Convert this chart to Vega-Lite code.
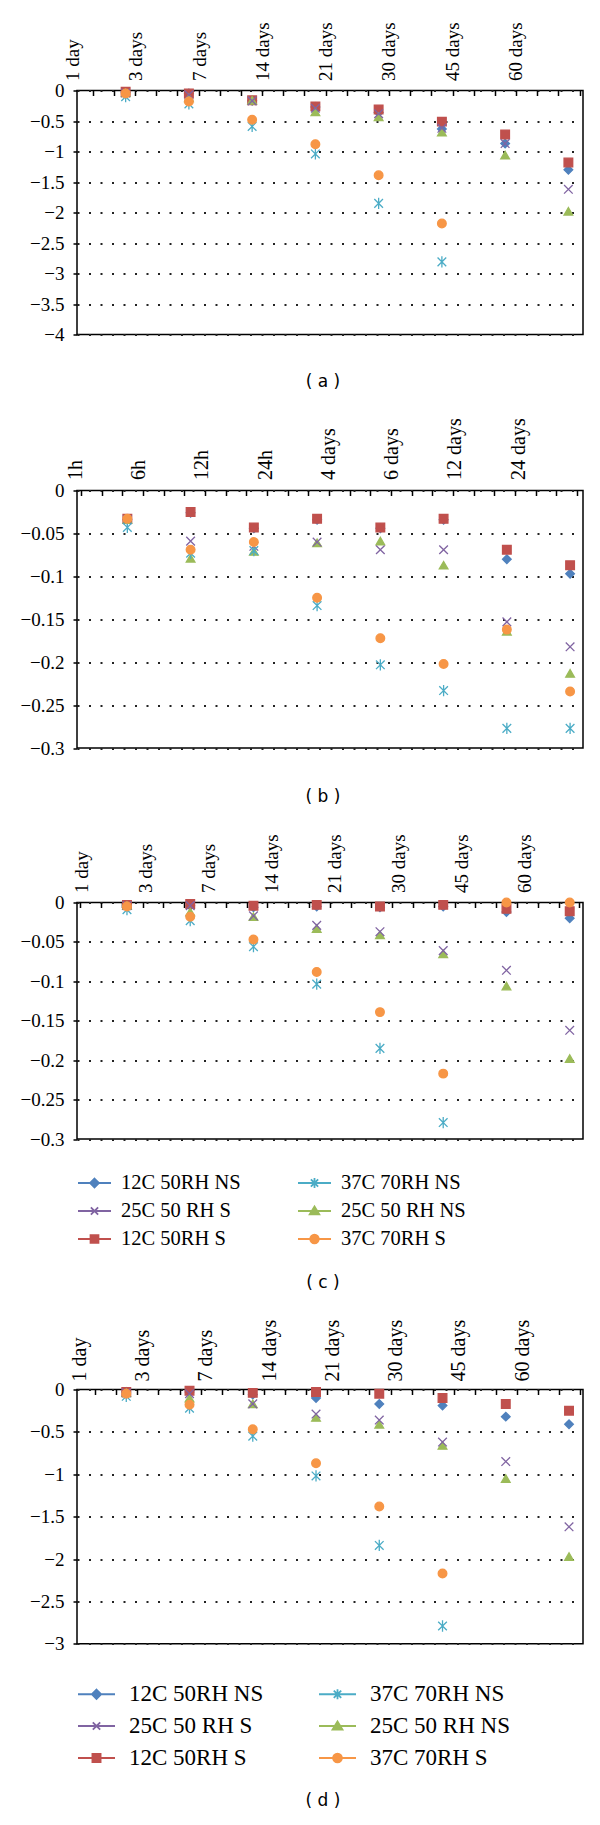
{
  "$schema": "https://vega.github.io/schema/vega-lite/v6.json",
  "background": "white",
  "padding": {"left": 19, "top": 20.5, "right": 0, "bottom": 0},
  "spacing": 26,
  "config": {
    "view": {"stroke": "black", "strokeWidth": 1.5},
    "axisY": {"labelFont": "Liberation Serif", "labelColor": "black", "tickColor": "black", "tickSize": 4, "tickWidth": 1.5, "domain": false, "grid": true, "gridColor": "#222222", "gridDash": [2, 9.5], "gridWidth": 1.8, "labelPadding": 9, "format": "~g"}
  },
  "resolve": {"scale": {"color": "independent", "stroke": "independent", "shape": "independent"}, "legend": {"color": "independent"}},
  "datasets": {
    "a": [
      {"s":"12C 50RH NS","t":"1 day","v":-0.03},{"s":"12C 50RH NS","t":"3 days","v":-0.05},{"s":"12C 50RH NS","t":"7 days","v":-0.17},{"s":"12C 50RH NS","t":"14 days","v":-0.27},{"s":"12C 50RH NS","t":"21 days","v":-0.36},{"s":"12C 50RH NS","t":"30 days","v":-0.63},{"s":"12C 50RH NS","t":"45 days","v":-0.87},{"s":"12C 50RH NS","t":"60 days","v":-1.3},
      {"s":"12C 50RH S","t":"1 day","v":-0.02},{"s":"12C 50RH S","t":"3 days","v":-0.05},{"s":"12C 50RH S","t":"7 days","v":-0.16},{"s":"12C 50RH S","t":"14 days","v":-0.26},{"s":"12C 50RH S","t":"21 days","v":-0.31},{"s":"12C 50RH S","t":"30 days","v":-0.51},{"s":"12C 50RH S","t":"45 days","v":-0.72},{"s":"12C 50RH S","t":"60 days","v":-1.18},
      {"s":"25C 50 RH NS","t":"1 day","v":-0.04},{"s":"25C 50 RH NS","t":"3 days","v":-0.12},{"s":"25C 50 RH NS","t":"7 days","v":-0.16},{"s":"25C 50 RH NS","t":"14 days","v":-0.35},{"s":"25C 50 RH NS","t":"21 days","v":-0.43},{"s":"25C 50 RH NS","t":"30 days","v":-0.68},{"s":"25C 50 RH NS","t":"45 days","v":-1.06},{"s":"25C 50 RH NS","t":"60 days","v":-1.98},
      {"s":"25C 50 RH S","t":"1 day","v":-0.04},{"s":"25C 50 RH S","t":"3 days","v":-0.07},{"s":"25C 50 RH S","t":"7 days","v":-0.17},{"s":"25C 50 RH S","t":"14 days","v":-0.29},{"s":"25C 50 RH S","t":"21 days","v":-0.38},{"s":"25C 50 RH S","t":"30 days","v":-0.62},{"s":"25C 50 RH S","t":"45 days","v":-0.87},{"s":"25C 50 RH S","t":"60 days","v":-1.62},
      {"s":"37C 70RH NS","t":"1 day","v":-0.1},{"s":"37C 70RH NS","t":"3 days","v":-0.22},{"s":"37C 70RH NS","t":"7 days","v":-0.59},{"s":"37C 70RH NS","t":"14 days","v":-1.04},{"s":"37C 70RH NS","t":"21 days","v":-1.85},{"s":"37C 70RH NS","t":"30 days","v":-2.81},
      {"s":"37C 70RH S","t":"1 day","v":-0.05},{"s":"37C 70RH S","t":"3 days","v":-0.18},{"s":"37C 70RH S","t":"7 days","v":-0.48},{"s":"37C 70RH S","t":"14 days","v":-0.88},{"s":"37C 70RH S","t":"21 days","v":-1.39},{"s":"37C 70RH S","t":"30 days","v":-2.18}
    ],
    "b": [
      {"s":"12C 50RH NS","t":"1h","v":-0.034},{"s":"12C 50RH NS","t":"6h","v":-0.026},{"s":"12C 50RH NS","t":"12h","v":-0.044},{"s":"12C 50RH NS","t":"24h","v":-0.034},{"s":"12C 50RH NS","t":"4 days","v":-0.044},{"s":"12C 50RH NS","t":"6 days","v":-0.034},{"s":"12C 50RH NS","t":"12 days","v":-0.08},{"s":"12C 50RH NS","t":"24 days","v":-0.097},
      {"s":"12C 50RH S","t":"1h","v":-0.033},{"s":"12C 50RH S","t":"6h","v":-0.025},{"s":"12C 50RH S","t":"12h","v":-0.043},{"s":"12C 50RH S","t":"24h","v":-0.033},{"s":"12C 50RH S","t":"4 days","v":-0.043},{"s":"12C 50RH S","t":"6 days","v":-0.033},{"s":"12C 50RH S","t":"12 days","v":-0.069},{"s":"12C 50RH S","t":"24 days","v":-0.087},
      {"s":"25C 50 RH NS","t":"1h","v":-0.034},{"s":"25C 50 RH NS","t":"6h","v":-0.079},{"s":"25C 50 RH NS","t":"12h","v":-0.071},{"s":"25C 50 RH NS","t":"24h","v":-0.061},{"s":"25C 50 RH NS","t":"4 days","v":-0.059},{"s":"25C 50 RH NS","t":"6 days","v":-0.087},{"s":"25C 50 RH NS","t":"12 days","v":-0.164},{"s":"25C 50 RH NS","t":"24 days","v":-0.213},
      {"s":"25C 50 RH S","t":"1h","v":-0.034},{"s":"25C 50 RH S","t":"6h","v":-0.059},{"s":"25C 50 RH S","t":"12h","v":-0.065},{"s":"25C 50 RH S","t":"24h","v":-0.06},{"s":"25C 50 RH S","t":"4 days","v":-0.069},{"s":"25C 50 RH S","t":"6 days","v":-0.069},{"s":"25C 50 RH S","t":"12 days","v":-0.153},{"s":"25C 50 RH S","t":"24 days","v":-0.182},
      {"s":"37C 70RH NS","t":"1h","v":-0.043},{"s":"37C 70RH NS","t":"6h","v":-0.073},{"s":"37C 70RH NS","t":"12h","v":-0.07},{"s":"37C 70RH NS","t":"24h","v":-0.134},{"s":"37C 70RH NS","t":"4 days","v":-0.203},{"s":"37C 70RH NS","t":"6 days","v":-0.233},{"s":"37C 70RH NS","t":"12 days","v":-0.277},{"s":"37C 70RH NS","t":"24 days","v":-0.277},
      {"s":"37C 70RH S","t":"1h","v":-0.033},{"s":"37C 70RH S","t":"6h","v":-0.069},{"s":"37C 70RH S","t":"12h","v":-0.06},{"s":"37C 70RH S","t":"24h","v":-0.125},{"s":"37C 70RH S","t":"4 days","v":-0.172},{"s":"37C 70RH S","t":"6 days","v":-0.202},{"s":"37C 70RH S","t":"12 days","v":-0.162},{"s":"37C 70RH S","t":"24 days","v":-0.234}
    ],
    "c": [
      {"s":"12C 50RH NS","t":"1 day","v":-0.004},{"s":"12C 50RH NS","t":"3 days","v":-0.004},{"s":"12C 50RH NS","t":"7 days","v":-0.006},{"s":"12C 50RH NS","t":"14 days","v":-0.005},{"s":"12C 50RH NS","t":"21 days","v":-0.006},{"s":"12C 50RH NS","t":"30 days","v":-0.005},{"s":"12C 50RH NS","t":"45 days","v":-0.012},{"s":"12C 50RH NS","t":"60 days","v":-0.02},
      {"s":"12C 50RH S","t":"1 day","v":-0.003},{"s":"12C 50RH S","t":"3 days","v":-0.002},{"s":"12C 50RH S","t":"7 days","v":-0.004},{"s":"12C 50RH S","t":"14 days","v":-0.003},{"s":"12C 50RH S","t":"21 days","v":-0.005},{"s":"12C 50RH S","t":"30 days","v":-0.003},{"s":"12C 50RH S","t":"45 days","v":-0.008},{"s":"12C 50RH S","t":"60 days","v":-0.011},
      {"s":"25C 50 RH NS","t":"1 day","v":-0.004},{"s":"25C 50 RH NS","t":"3 days","v":-0.012},{"s":"25C 50 RH NS","t":"7 days","v":-0.018},{"s":"25C 50 RH NS","t":"14 days","v":-0.033},{"s":"25C 50 RH NS","t":"21 days","v":-0.041},{"s":"25C 50 RH NS","t":"30 days","v":-0.065},{"s":"25C 50 RH NS","t":"45 days","v":-0.106},{"s":"25C 50 RH NS","t":"60 days","v":-0.198},
      {"s":"25C 50 RH S","t":"1 day","v":-0.004},{"s":"25C 50 RH S","t":"3 days","v":-0.004},{"s":"25C 50 RH S","t":"7 days","v":-0.017},{"s":"25C 50 RH S","t":"14 days","v":-0.029},{"s":"25C 50 RH S","t":"21 days","v":-0.037},{"s":"25C 50 RH S","t":"30 days","v":-0.061},{"s":"25C 50 RH S","t":"45 days","v":-0.086},{"s":"25C 50 RH S","t":"60 days","v":-0.162},
      {"s":"37C 70RH NS","t":"1 day","v":-0.009},{"s":"37C 70RH NS","t":"3 days","v":-0.023},{"s":"37C 70RH NS","t":"7 days","v":-0.056},{"s":"37C 70RH NS","t":"14 days","v":-0.1035},{"s":"37C 70RH NS","t":"21 days","v":-0.185},{"s":"37C 70RH NS","t":"30 days","v":-0.279},
      {"s":"37C 70RH S","t":"1 day","v":-0.005},{"s":"37C 70RH S","t":"3 days","v":-0.018},{"s":"37C 70RH S","t":"7 days","v":-0.047},{"s":"37C 70RH S","t":"14 days","v":-0.088},{"s":"37C 70RH S","t":"21 days","v":-0.139},{"s":"37C 70RH S","t":"30 days","v":-0.217},{"s":"37C 70RH S","t":"45 days","v":0},{"s":"37C 70RH S","t":"60 days","v":0}
    ],
    "d": [
      {"s":"12C 50RH NS","t":"1 day","v":-0.03},{"s":"12C 50RH NS","t":"3 days","v":-0.03},{"s":"12C 50RH NS","t":"7 days","v":-0.06},{"s":"12C 50RH NS","t":"14 days","v":-0.1},{"s":"12C 50RH NS","t":"21 days","v":-0.17},{"s":"12C 50RH NS","t":"30 days","v":-0.19},{"s":"12C 50RH NS","t":"45 days","v":-0.32},{"s":"12C 50RH NS","t":"60 days","v":-0.41},
      {"s":"12C 50RH S","t":"1 day","v":-0.03},{"s":"12C 50RH S","t":"3 days","v":-0.015},{"s":"12C 50RH S","t":"7 days","v":-0.04},{"s":"12C 50RH S","t":"14 days","v":-0.03},{"s":"12C 50RH S","t":"21 days","v":-0.05},{"s":"12C 50RH S","t":"30 days","v":-0.1},{"s":"12C 50RH S","t":"45 days","v":-0.17},{"s":"12C 50RH S","t":"60 days","v":-0.25},
      {"s":"25C 50 RH NS","t":"1 day","v":-0.04},{"s":"25C 50 RH NS","t":"3 days","v":-0.1},{"s":"25C 50 RH NS","t":"7 days","v":-0.17},{"s":"25C 50 RH NS","t":"14 days","v":-0.33},{"s":"25C 50 RH NS","t":"21 days","v":-0.41},{"s":"25C 50 RH NS","t":"30 days","v":-0.66},{"s":"25C 50 RH NS","t":"45 days","v":-1.05},{"s":"25C 50 RH NS","t":"60 days","v":-1.97},
      {"s":"25C 50 RH S","t":"1 day","v":-0.04},{"s":"25C 50 RH S","t":"3 days","v":-0.05},{"s":"25C 50 RH S","t":"7 days","v":-0.17},{"s":"25C 50 RH S","t":"14 days","v":-0.29},{"s":"25C 50 RH S","t":"21 days","v":-0.36},{"s":"25C 50 RH S","t":"30 days","v":-0.62},{"s":"25C 50 RH S","t":"45 days","v":-0.85},{"s":"25C 50 RH S","t":"60 days","v":-1.62},
      {"s":"37C 70RH NS","t":"1 day","v":-0.08},{"s":"37C 70RH NS","t":"3 days","v":-0.22},{"s":"37C 70RH NS","t":"7 days","v":-0.55},{"s":"37C 70RH NS","t":"14 days","v":-1.02},{"s":"37C 70RH NS","t":"21 days","v":-1.84},{"s":"37C 70RH NS","t":"30 days","v":-2.79},
      {"s":"37C 70RH S","t":"1 day","v":-0.05},{"s":"37C 70RH S","t":"3 days","v":-0.18},{"s":"37C 70RH S","t":"7 days","v":-0.47},{"s":"37C 70RH S","t":"14 days","v":-0.87},{"s":"37C 70RH S","t":"21 days","v":-1.38},{"s":"37C 70RH S","t":"30 days","v":-2.17}
    ]
  },
  "vconcat": [
    {
      "width": 506, "height": 244,
      "title": {"text": "( a )", "orient": "bottom", "anchor": "middle", "frame": "group", "offset": 29, "dx": -7, "font": "DejaVu Sans", "fontSize": 17, "fontWeight": "normal", "color": "black"},
      "layer": [
        {
          "data": {"values": []},
          "mark": {"type": "point", "opacity": 0},
          "encoding": {"x": {"field": "k", "type": "quantitative", "scale": {"domain": [0.255, 24.16], "nice": false, "zero": false},
            "axis": {"orient": "top", "values": [1,2,3,4,5,6,7,8,9,10,11,12,13,14,15,16,17,18,19,20,21,22,23,24], "labels": false, "domain": false, "grid": false, "ticks": true, "tickSize": 5, "tickWidth": 1.5, "tickColor": "black", "offset": -5, "title": null}}}
        },
        {
          "data": {"name": "a"},
          "mark": {"type": "point", "filled": true, "size": 75, "opacity": 1, "strokeWidth": 1.3},
          "encoding": {
            "x": {"field": "t", "type": "ordinal", "sort": null,
              "scale": {"type": "point", "domain": ["1 day","3 days","7 days","14 days","21 days","30 days","45 days","60 days"], "paddingOuter": 0.484, "align": 0.769, "round": false},
              "axis": {"orient": "top", "title": null, "domain": false, "ticks": false, "grid": false, "labelAngle": 270, "labelAlign": "left", "labelBaseline": "middle", "labelPadding": 10, "labelOffset": -53, "labelOverlap": false, "labelFont": "Liberation Serif", "labelFontSize": 19, "labelColor": "black"}},
            "y": {"field": "v", "type": "quantitative", "scale": {"domain": [-4, 0], "nice": false, "zero": false},
              "axis": {"title": null, "values": [0,-0.5,-1,-1.5,-2,-2.5,-3,-3.5,-4], "labelFontSize": 19}},
            "color": {"field": "s", "type": "nominal", "scale": {"domain": ["12C 50RH NS","37C 70RH NS","25C 50 RH S","25C 50 RH NS","12C 50RH S","37C 70RH S"], "range": ["#4F81BD","#4BACC6","#8064A2","#9BBB59","#C0504D","#F79646"]}, "legend": null},
            "stroke": {"field": "s", "type": "nominal", "scale": {"domain": ["12C 50RH NS","25C 50 RH S","12C 50RH S","37C 70RH NS","25C 50 RH NS","37C 70RH S"], "range": ["#4F81BD","#8064A2","#C0504D","#4BACC6","#9BBB59","#F79646"]}, "legend": null},
            "shape": {"field": "s", "type": "nominal", "scale": {"domain": ["12C 50RH NS","25C 50 RH S","12C 50RH S","37C 70RH NS","25C 50 RH NS","37C 70RH S"], "range": ["diamond","M-1,-1L1,1M-1,1L1,-1","square","M-1,-1L1,1M-1,1L1,-1M0,-1.3V1.3","triangle-up","circle"]}, "legend": null}
          }
        }
      ],
      "resolve": {"scale": {"x": "independent"}, "axis": {"x": "independent"}}
    },
    {
      "width": 506, "height": 257.6,
      "title": {"text": "( b )", "orient": "bottom", "anchor": "middle", "frame": "group", "offset": 31, "dx": -7, "font": "DejaVu Sans", "fontSize": 17, "fontWeight": "normal", "color": "black"},
      "layer": [
        {
          "data": {"values": []},
          "mark": {"type": "point", "opacity": 0},
          "encoding": {"x": {"field": "k", "type": "quantitative", "scale": {"domain": [-0.194, 24.29], "nice": false, "zero": false},
            "axis": {"orient": "top", "values": [0,1,2,3,4,5,6,7,8,9,10,11,12,13,14,15,16,17,18,19,20,21,22,23,24], "labels": false, "domain": false, "grid": false, "ticks": true, "tickSize": 5, "tickWidth": 1.5, "tickColor": "black", "offset": -5, "title": null}}}
        },
        {
          "data": {"name": "b"},
          "mark": {"type": "point", "filled": true, "size": 75, "opacity": 1, "strokeWidth": 1.3},
          "encoding": {
            "x": {"field": "t", "type": "ordinal", "sort": null,
              "scale": {"type": "point", "domain": ["1h","6h","12h","24h","4 days","6 days","12 days","24 days"], "paddingOuter": 0.581, "align": 0.796, "round": false},
              "axis": {"orient": "top", "title": null, "domain": false, "ticks": false, "grid": false, "labelAngle": 270, "labelAlign": "left", "labelBaseline": "middle", "labelPadding": 11, "labelOffset": -52, "labelOverlap": false, "labelFont": "Liberation Serif", "labelFontSize": 20, "labelColor": "black"}},
            "y": {"field": "v", "type": "quantitative", "scale": {"domain": [-0.3, 0], "nice": false, "zero": false},
              "axis": {"title": null, "values": [0,-0.05,-0.1,-0.15,-0.2,-0.25,-0.3], "labelFontSize": 19}},
            "color": {"field": "s", "type": "nominal", "scale": {"domain": ["12C 50RH NS","37C 70RH NS","25C 50 RH S","25C 50 RH NS","12C 50RH S","37C 70RH S"], "range": ["#4F81BD","#4BACC6","#8064A2","#9BBB59","#C0504D","#F79646"]}, "legend": null},
            "stroke": {"field": "s", "type": "nominal", "scale": {"domain": ["12C 50RH NS","25C 50 RH S","12C 50RH S","37C 70RH NS","25C 50 RH NS","37C 70RH S"], "range": ["#4F81BD","#8064A2","#C0504D","#4BACC6","#9BBB59","#F79646"]}, "legend": null},
            "shape": {"field": "s", "type": "nominal", "scale": {"domain": ["12C 50RH NS","25C 50 RH S","12C 50RH S","37C 70RH NS","25C 50 RH NS","37C 70RH S"], "range": ["diamond","M-1,-1L1,1M-1,1L1,-1","square","M-1,-1L1,1M-1,1L1,-1M0,-1.3V1.3","triangle-up","circle"]}, "legend": null}
          }
        }
      ],
      "resolve": {"scale": {"x": "independent"}, "axis": {"x": "independent"}}
    },
    {
      "width": 506, "height": 236.6,
      "title": {"text": "( c )", "orient": "bottom", "anchor": "middle", "frame": "group", "offset": 25.5, "dx": -7, "font": "DejaVu Sans", "fontSize": 17, "fontWeight": "normal", "color": "black"},
      "layer": [
        {
          "data": {"values": []},
          "mark": {"type": "point", "opacity": 0},
          "encoding": {"x": {"field": "k", "type": "quantitative", "scale": {"domain": [-0.154, 24.17], "nice": false, "zero": false},
            "axis": {"orient": "top", "values": [0,1,2,3,4,5,6,7,8,9,10,11,12,13,14,15,16,17,18,19,20,21,22,23,24], "labels": false, "domain": false, "grid": false, "ticks": true, "tickSize": 5, "tickWidth": 1.5, "tickColor": "black", "offset": -5, "title": null}}}
        },
        {
          "data": {"name": "c"},
          "mark": {"type": "point", "filled": true, "size": 75, "opacity": 1, "strokeWidth": 1.3},
          "encoding": {
            "x": {"field": "t", "type": "ordinal", "sort": null,
              "scale": {"type": "point", "domain": ["1 day","3 days","7 days","14 days","21 days","30 days","45 days","60 days"], "paddingOuter": 0.554, "align": 0.79, "round": false},
              "axis": {"orient": "top", "title": null, "domain": false, "ticks": false, "grid": false, "labelAngle": 270, "labelAlign": "left", "labelBaseline": "middle", "labelPadding": 10, "labelOffset": -45, "labelOverlap": false, "labelFont": "Liberation Serif", "labelFontSize": 19, "labelColor": "black"}},
            "y": {"field": "v", "type": "quantitative", "scale": {"domain": [-0.3, 0], "nice": false, "zero": false},
              "axis": {"title": null, "values": [0,-0.05,-0.1,-0.15,-0.2,-0.25,-0.3], "labelFontSize": 19}},
            "color": {"field": "s", "type": "nominal", "scale": {"domain": ["12C 50RH NS","37C 70RH NS","25C 50 RH S","25C 50 RH NS","12C 50RH S","37C 70RH S"], "range": ["#4F81BD","#4BACC6","#8064A2","#9BBB59","#C0504D","#F79646"]},
              "legend": {"orient": "bottom", "columns": 2, "direction": "horizontal", "title": null, "offset": 26, "columnPadding": 53, "rowPadding": -3.2, "labelFont": "Liberation Serif", "labelFontSize": 20.5, "labelColor": "black", "labelOffset": 9, "labelLimit": 400, "symbolSize": 1089, "symbolStrokeWidth": 1.8, "symbolOpacity": 1,
                "encode": {"symbols": {"update": {
                  "shape": {"signal": "{'12C 50RH NS':'M-1,0H1M0,-0.27L0.27,0L0,0.27L-0.27,0Z','37C 70RH NS':'M-1,0H1M-0.22,-0.22L0.22,0.22M-0.22,0.22L0.22,-0.22M0,-0.3V0.3','25C 50 RH S':'M-1,0H1M-0.22,-0.22L0.22,0.22M-0.22,0.22L0.22,-0.22','25C 50 RH NS':'M-1,0H1M0,-0.27L0.29,0.21L-0.29,0.21Z','12C 50RH S':'M-1,0H1M-0.24,-0.24H0.24V0.24H-0.24Z','37C 70RH S':'M-1,0H1M-0.26,0A0.26,0.26,0,1,0,0.26,0A0.26,0.26,0,1,0,-0.26,0Z'}[datum.value]"},
                  "stroke": {"signal": "{'12C 50RH NS':'#4F81BD','37C 70RH NS':'#4BACC6','25C 50 RH S':'#8064A2','25C 50 RH NS':'#9BBB59','12C 50RH S':'#C0504D','37C 70RH S':'#F79646'}[datum.value]"}
                }}}}},
            "stroke": {"field": "s", "type": "nominal", "scale": {"domain": ["12C 50RH NS","25C 50 RH S","12C 50RH S","37C 70RH NS","25C 50 RH NS","37C 70RH S"], "range": ["#4F81BD","#8064A2","#C0504D","#4BACC6","#9BBB59","#F79646"]}, "legend": null},
            "shape": {"field": "s", "type": "nominal", "scale": {"domain": ["12C 50RH NS","25C 50 RH S","12C 50RH S","37C 70RH NS","25C 50 RH NS","37C 70RH S"], "range": ["diamond","M-1,-1L1,1M-1,1L1,-1","square","M-1,-1L1,1M-1,1L1,-1M0,-1.3V1.3","triangle-up","circle"]}, "legend": null}
          }
        }
      ],
      "resolve": {"scale": {"x": "independent"}, "axis": {"x": "independent"}}
    },
    {
      "width": 506, "height": 254.3,
      "title": {"text": "( d )", "orient": "bottom", "anchor": "middle", "frame": "group", "offset": 22, "dx": -7, "font": "DejaVu Sans", "fontSize": 17, "fontWeight": "normal", "color": "black"},
      "layer": [
        {
          "data": {"values": []},
          "mark": {"type": "point", "opacity": 0},
          "encoding": {"x": {"field": "k", "type": "quantitative", "scale": {"domain": [0.142, 24.12], "nice": false, "zero": false},
            "axis": {"orient": "top", "values": [1,2,3,4,5,6,7,8,9,10,11,12,13,14,15,16,17,18,19,20,21,22,23,24], "labels": false, "domain": false, "grid": false, "ticks": true, "tickSize": 5, "tickWidth": 1.5, "tickColor": "black", "offset": -5, "title": null}}}
        },
        {
          "data": {"name": "d"},
          "mark": {"type": "point", "filled": true, "size": 75, "opacity": 1, "strokeWidth": 1.3},
          "encoding": {
            "x": {"field": "t", "type": "ordinal", "sort": null,
              "scale": {"type": "point", "domain": ["1 day","3 days","7 days","14 days","21 days","30 days","45 days","60 days"], "paddingOuter": 0.497, "align": 0.779, "round": false},
              "axis": {"orient": "top", "title": null, "domain": false, "ticks": false, "grid": false, "labelAngle": 270, "labelAlign": "left", "labelBaseline": "middle", "labelPadding": 8.5, "labelOffset": -47, "labelOverlap": false, "labelFont": "Liberation Serif", "labelFontSize": 20, "labelColor": "black"}},
            "y": {"field": "v", "type": "quantitative", "scale": {"domain": [-3, 0], "nice": false, "zero": false},
              "axis": {"title": null, "values": [0,-0.5,-1,-1.5,-2,-2.5,-3], "labelFontSize": 19}},
            "color": {"field": "s", "type": "nominal", "scale": {"domain": ["12C 50RH NS","37C 70RH NS","25C 50 RH S","25C 50 RH NS","12C 50RH S","37C 70RH S"], "range": ["#4F81BD","#4BACC6","#8064A2","#9BBB59","#C0504D","#F79646"]},
              "legend": {"orient": "bottom", "columns": 2, "direction": "horizontal", "title": null, "offset": 29.5, "columnPadding": 51, "rowPadding": -2.7, "labelFont": "Liberation Serif", "labelFontSize": 23, "labelColor": "black", "labelOffset": 13, "labelLimit": 400, "symbolSize": 1369, "symbolStrokeWidth": 1.8, "symbolOpacity": 1,
                "encode": {"symbols": {"update": {
                  "shape": {"signal": "{'12C 50RH NS':'M-1,0H1M0,-0.25L0.25,0L0,0.25L-0.25,0Z','37C 70RH NS':'M-1,0H1M-0.2,-0.2L0.2,0.2M-0.2,0.2L0.2,-0.2M0,-0.27V0.27','25C 50 RH S':'M-1,0H1M-0.2,-0.2L0.2,0.2M-0.2,0.2L0.2,-0.2','25C 50 RH NS':'M-1,0H1M0,-0.25L0.27,0.2L-0.27,0.2Z','12C 50RH S':'M-1,0H1M-0.22,-0.22H0.22V0.22H-0.22Z','37C 70RH S':'M-1,0H1M-0.24,0A0.24,0.24,0,1,0,0.24,0A0.24,0.24,0,1,0,-0.24,0Z'}[datum.value]"},
                  "stroke": {"signal": "{'12C 50RH NS':'#4F81BD','37C 70RH NS':'#4BACC6','25C 50 RH S':'#8064A2','25C 50 RH NS':'#9BBB59','12C 50RH S':'#C0504D','37C 70RH S':'#F79646'}[datum.value]"}
                }}}}},
            "stroke": {"field": "s", "type": "nominal", "scale": {"domain": ["12C 50RH NS","25C 50 RH S","12C 50RH S","37C 70RH NS","25C 50 RH NS","37C 70RH S"], "range": ["#4F81BD","#8064A2","#C0504D","#4BACC6","#9BBB59","#F79646"]}, "legend": null},
            "shape": {"field": "s", "type": "nominal", "scale": {"domain": ["12C 50RH NS","25C 50 RH S","12C 50RH S","37C 70RH NS","25C 50 RH NS","37C 70RH S"], "range": ["diamond","M-1,-1L1,1M-1,1L1,-1","square","M-1,-1L1,1M-1,1L1,-1M0,-1.3V1.3","triangle-up","circle"]}, "legend": null}
          }
        }
      ],
      "resolve": {"scale": {"x": "independent"}, "axis": {"x": "independent"}}
    }
  ]
}
